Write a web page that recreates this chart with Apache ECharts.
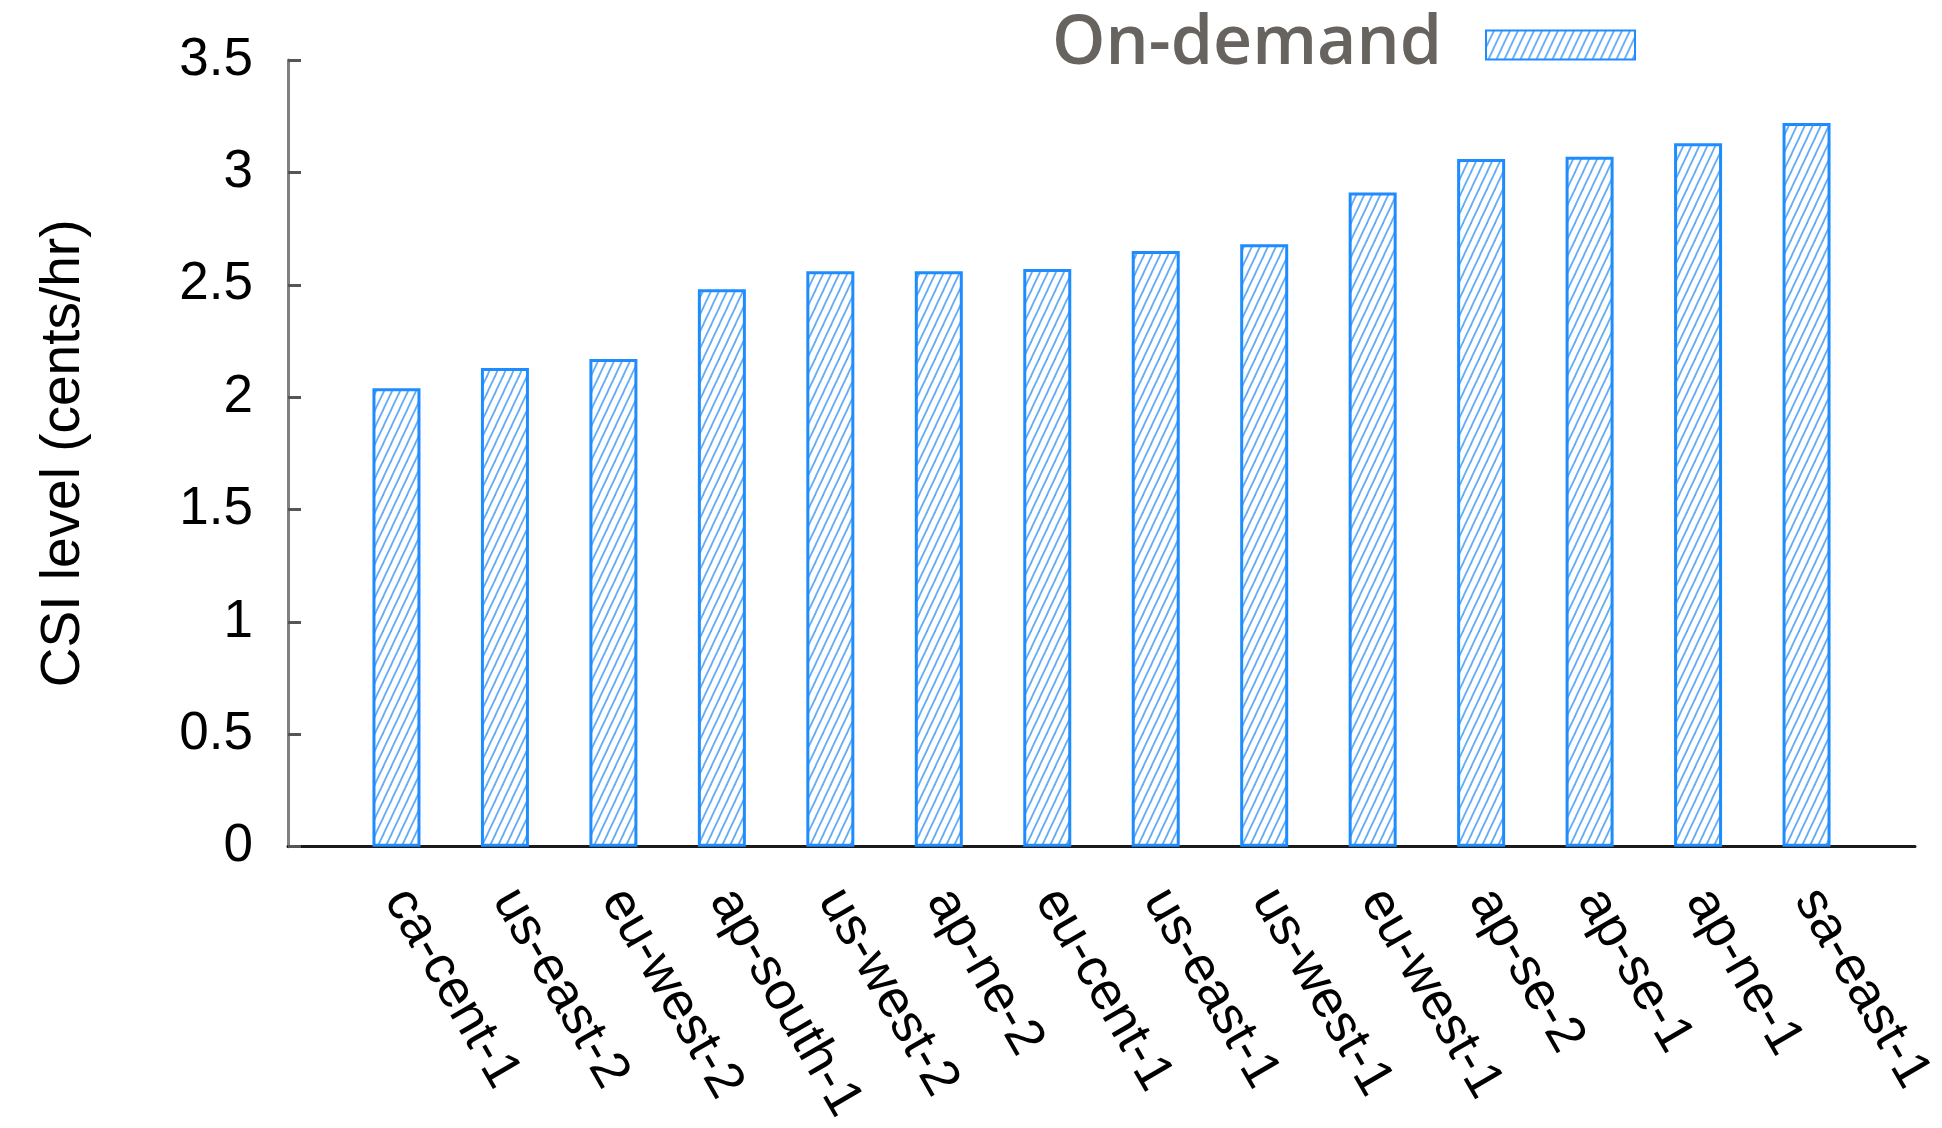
<!DOCTYPE html>
<html>
<head>
<meta charset="utf-8">
<title>CSI level by region</title>
<script src="https://cdn.jsdelivr.net/npm/echarts@6/dist/echarts.min.js"></script>
<style>
  html, body { margin: 0; padding: 0; background: #ffffff; }
  #chart { width: 1942px; height: 1128px; }
</style>
</head>
<body>
<div id="chart"></div>
<script>
// Regions, sorted by on-demand CSI level
const regions = [
  'ca-cent-1', 'us-east-2', 'eu-west-2', 'ap-south-1', 'us-west-2', 'ap-ne-2', 'eu-cent-1',
  'us-east-1', 'us-west-1', 'eu-west-1', 'ap-se-2', 'ap-se-1', 'ap-ne-1', 'sa-east-1'
];
// CSI level (cents/hr), on-demand
const onDemand = [2.04, 2.13, 2.17, 2.48, 2.56, 2.56, 2.57, 2.65, 2.68, 2.91, 3.06, 3.07, 3.13, 3.22];
// Y axis ticks
const yTicks = [0, 0.5, 1, 1.5, 2, 2.5, 3, 3.5];

// Diagonal hatch tile for the bar fill
function hatchTile() {
  const w = 8, h = 17;
  const c = document.createElement('canvas');
  c.width = w; c.height = h;
  const g = c.getContext('2d');
  g.fillStyle = '#ffffff';
  g.fillRect(0, 0, w, h);
  g.strokeStyle = 'rgba(40,140,240,0.72)';
  g.lineWidth = 1.8;
  for (let k = -1; k <= 1; k++) {
    g.beginPath();
    g.moveTo(k * w - 1, h + 2);
    g.lineTo(k * w + w + 1, -2);
    g.stroke();
  }
  return c;
}

// Empty slot on each side of the category axis
const axisCats = [''].concat(regions, ['']);
const barData = [null].concat(onDemand, [null]);

const chart = echarts.init(document.getElementById('chart'), null, { renderer: 'canvas' });
const hatch = { image: hatchTile(), repeat: 'repeat' };

chart.setOption({
  backgroundColor: '#ffffff',
  animation: false,
  grid: { left: 288, right: 27, top: 60, bottom: 267, containLabel: false },
  legend: {
    show: true,
    right: 306,
    top: 9,
    padding: 0,
    itemWidth: 149,
    itemHeight: 29,
    align: 'right',
    selectedMode: false,
    data: [{ name: 'On-demand', icon: 'rect' }],
    textStyle: {
      fontFamily: '"Open Sans", sans-serif',
      fontWeight: 600,
      fontSize: 68,
      lineHeight: 72,
      color: '#67635e',
      padding: [0, 39, 0, 0]
    }
  },
  xAxis: {
    type: 'category',
    data: axisCats,
    boundaryGap: false,
    axisLine: { show: true, lineStyle: { color: '#1a1a1a', width: 3 } },
    axisTick: { show: false },
    splitLine: { show: false },
    axisLabel: {
      interval: 0,
      rotate: -60,
      margin: 46,
      fontFamily: '"Liberation Sans", Arial, sans-serif',
      fontSize: 53,
      color: '#000000'
    }
  },
  yAxis: {
    type: 'value',
    min: yTicks[0],
    max: yTicks[yTicks.length - 1],
    interval: 0.5,
    name: 'CSI level (cents/hr)',
    nameLocation: 'middle',
    nameRotate: 90,
    nameGap: 197,
    nameTextStyle: {
      fontFamily: '"Liberation Sans", Arial, sans-serif',
      fontSize: 55,
      color: '#000000'
    },
    axisLine: { show: true, lineStyle: { color: '#808080', width: 3 } },
    axisTick: { show: true, inside: true, length: 13, lineStyle: { color: '#555555', width: 3 } },
    splitLine: { show: false },
    axisLabel: {
      margin: 35,
      fontFamily: '"Liberation Sans", Arial, sans-serif',
      fontSize: 53,
      color: '#000000',
      formatter: v => String(v)
    }
  },
  series: [{
    name: 'On-demand',
    type: 'bar',
    data: barData,
    barWidth: 48,
    itemStyle: {
      color: hatch,
      borderColor: '#1e8cff',
      borderWidth: 3
    }
  }]
});
</script>
</body>
</html>
